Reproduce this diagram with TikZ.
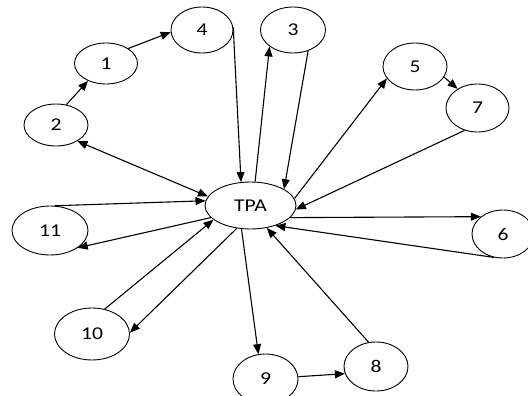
\documentclass[tikz,border=0pt]{standalone}
\usepackage{fontspec}
\setmainfont[FakeStretch=1.2]{Carlito}
\usetikzlibrary{arrows.meta,shapes.geometric,positioning}
\newcommand{\labelfont}{\fontsize{18}{18}\selectfont}

\begin{document}
\begin{tikzpicture}[x=1pt, y=-1pt, font=\labelfont,
  bubble/.style={ellipse, draw, line width=0.9pt, inner sep=0pt, minimum width=63, minimum height=46},
  link/.style={line width=1.1pt, -{Triangle[length=10pt,width=8pt]}}]
\useasboundingbox (0,0) rectangle (528,396);
\node[bubble, minimum width=91, minimum height=47] (tpa) at (250.5,205.5) {TPA};
\node[bubble, minimum height=41] (n1) at (106,63.5) {1};
\node[bubble, minimum width=64, minimum height=42] (n2) at (56,125) {2};
\node[bubble, minimum width=65] (n3) at (293,30) {3};
\node[bubble, minimum width=62] (n4) at (202,30) {4};
\node[bubble, minimum width=64, minimum height=47] (n5) at (415,66.5) {5};
\node[bubble, minimum width=62, minimum height=48] (n6) at (503,234) {6};
\node[bubble, minimum height=48] (n7) at (477.5,108) {7};
\node[bubble, minimum width=64, minimum height=49] (n8) at (376,366.5) {8};
\node[bubble, minimum width=65, minimum height=50] (n9) at (265.5,379) {9};
\node[bubble, minimum width=75, minimum height=52] (n10) at (92,334) {10};
\node[bubble, minimum width=76, minimum height=49] (n11) at (50,230.5) {11};

\draw[link] (n2.63) -- (n1.224);
\draw[link] (n1.34) -- (n4.184);
\draw[link] (n4.5) -- (tpa.112);
\draw[link] (tpa.79) -- (n3.215);
\draw[link] (n3.306) -- (tpa.26);
\draw[link] (tpa.9) -- (n5.203);
\draw[link] (n5.340) -- (n7.136);
\draw[link] (n7.240) -- (tpa.355);
\draw[link] (tpa.343) -- (n6.142);
\draw[link] (n6.249) -- (tpa.321);
\draw[link] (n8.107) -- (tpa.306);
\draw[link] (n9.4) -- (n8.193);
\draw[link] (tpa.249) -- (n9.106);
\draw[link] (tpa.239) -- (n10.2);
\draw[link] (n10.63) -- (tpa.201);
\draw[link] (tpa.197) -- (n11.328);
\draw[link] (n11.79) -- (tpa.174);
\draw[link, {Triangle[length=10pt,width=8pt]}-{Triangle[length=10pt,width=8pt]}] (n2.323) -- (tpa.168);
\end{tikzpicture}
\end{document}
